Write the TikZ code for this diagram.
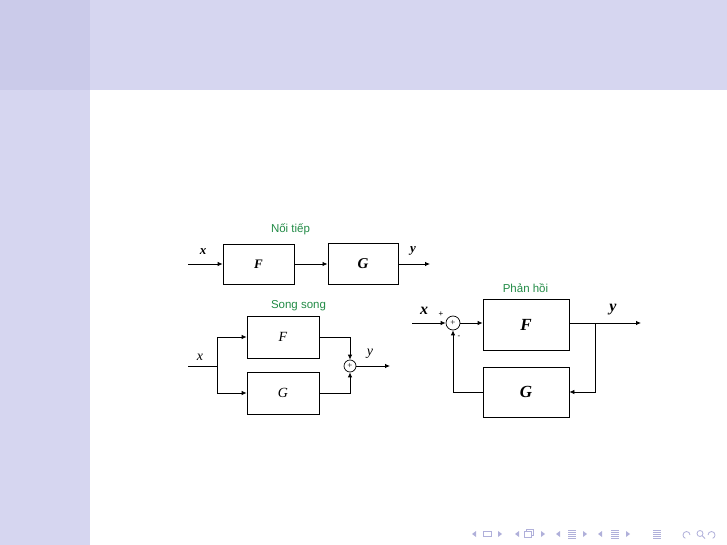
\documentclass[tikz,border=0pt]{standalone}
\usepackage{fontspec}
\setmainfont{Liberation Serif}
\newfontfamily\lsans{Liberation Sans}
\usetikzlibrary{arrows.meta}
\definecolor{band}{HTML}{D6D6F0}
\definecolor{corner}{HTML}{CBCBEA}
\definecolor{lblgreen}{RGB}{34,139,70}
\definecolor{navc}{HTML}{B0B0DA}
\tikzset{
  blk/.style={draw, line width=0.8pt, inner sep=0pt},
  sumc/.style={draw, circle, line width=0.7pt, inner sep=0pt, minimum size=12pt},
  conn/.style={line width=0.8pt},
  arr/.style={conn, -{Latex[length=5pt,width=4.5pt]}},
  lbl/.style={font=\lsans\fontsize{11.5}{12}\selectfont, text=lblgreen},
}
\begin{document}
\begin{tikzpicture}[x=1pt,y=-1pt]
\useasboundingbox (0,0) rectangle (727,545);
% beamer frame
\fill[band] (0,0) rectangle (727,90);
\fill[band] (0,90) rectangle (90,545);
\fill[corner] (0,0) rectangle (90,90);

% ---- series ----
\node[lbl] (ls) at (290.5,229) {Nối tiếp};
\node[blk, minimum width=71pt, minimum height=40pt] (sF) at (258.5,264) {\fontsize{13}{14}\selectfont\itshape\bfseries F};
\node[blk, line width=1pt, minimum width=70pt, minimum height=41pt] (sG) at (363,264) {\fontsize{15}{16}\selectfont\itshape\bfseries G};
\coordinate (sin) at (188,264);
\coordinate (sout) at (430,264);
\draw[arr] (sin) -- (sF.west);
\draw[arr] (sF.east) -- (sG.west);
\draw[arr] (sG.east) -- (sout);
\node[font=\fontsize{13}{14}\selectfont\itshape\bfseries] (sx) at (203,252) {x};
\node[font=\fontsize{13}{14}\selectfont\itshape\bfseries] (sy) at (413,251) {y};

% ---- parallel ----
\node[lbl] (lp) at (298.5,306) {Song song};
\node[blk, minimum width=72pt, minimum height=42pt] (pF) at (283,337) {\fontsize{14}{15}\selectfont\itshape F};
\node[blk, minimum width=72pt, minimum height=42pt] (pG) at (283,393) {\fontsize{14}{15}\selectfont\itshape G};
\node[sumc] (pS) at (350,366) {};
\node[font=\fontsize{9}{9}\selectfont] at (pS.center) {+};
\coordinate (pin) at (188,366);
\coordinate (pbr) at (217,366);
\coordinate (pout) at (390,366);
\draw[conn] (pin) -- (pbr);
\draw[arr] (pbr) |- (pF.west);
\draw[arr] (pbr) |- (pG.west);
\draw[arr] (pF.east) -| (pS.north);
\draw[arr] (pG.east) -| (pS.south);
\draw[arr] (pS.east) -- (pout);
\node[font=\fontsize{14}{15}\selectfont\itshape] (px) at (200,357) {x};
\node[font=\fontsize{14}{15}\selectfont\itshape] (py) at (370,354) {y};

% ---- feedback ----
\node[lbl] (lf) at (525.5,288) {Phản hồi};
\node[blk, minimum width=86pt, minimum height=51pt] (fF) at (526,324.5) {\fontsize{17}{18}\selectfont\itshape\bfseries F};
\node[blk, minimum width=86pt, minimum height=50pt] (fG) at (526,392) {\fontsize{17}{18}\selectfont\itshape\bfseries G};
\node[sumc, minimum size=14pt] (fS) at (453,323) {};
\node[font=\fontsize{9}{9}\selectfont] at (fS.center) {+};
\coordinate (fin) at (412,323);
\coordinate (fout) at (641,323);
\coordinate (fbr) at (595,323);
\draw[arr] (fin) -- (fS.west);
\draw[arr] (fS.east) -- (fS.east -| fF.west);
\draw[arr] (fS.east -| fF.east) -- (fout);
\draw[arr] (fbr) |- (fG.east);
\draw[arr] (fG.west) -| (fS.south);
\node[font=\fontsize{16}{17}\selectfont\itshape\bfseries] (fx) at (424,311) {x};
\node[font=\fontsize{16}{17}\selectfont\itshape\bfseries] (fy) at (613,310) {y};
\node[font=\lsans\fontsize{8}{8}\selectfont] (fp) at (441,314) {+};
\node[font=\lsans\fontsize{8}{8}\selectfont] (fm) at (459,337) {-};

% ---- navigation symbols ----
\begin{scope}[navc]
\fill (476,531) -- (476,537) -- (472,534) -- cycle;
\draw[line width=0.8pt] (483,531.5) rectangle (491,536.5);
\fill (498,531) -- (498,537) -- (502,534) -- cycle;
\fill (519,531) -- (519,537) -- (515,534) -- cycle;
\draw[line width=0.7pt] (524,531) rectangle (531,537);
\draw[line width=0.7pt] (526,531) -- (526,529) -- (533,529) -- (533,535) -- (531,535);
\fill (541,531) -- (541,537) -- (545,534) -- cycle;
\fill (560,531) -- (560,537) -- (556,534) -- cycle;
\foreach \yy in {530,532,534,536,538} \draw[line width=0.6pt] (568,\yy) -- (576,\yy);
\fill (583,531) -- (583,537) -- (587,534) -- cycle;
\fill (602,531) -- (602,537) -- (598,534) -- cycle;
\foreach \yy in {530,532,534,536,538} \draw[line width=0.6pt] (611,\yy) -- (619,\yy);
\fill (626,531) -- (626,537) -- (630,534) -- cycle;
\foreach \yy in {530,532,534,536,538} \draw[line width=0.6pt] (653,\yy) -- (661,\yy);
\draw[line width=0.8pt] (690,535) arc (0:-250:3.5) ;
\draw[line width=0.8pt] (700,533.5) circle (3);
\draw[line width=0.8pt] (702,535.5) -- (705,538.5);
\draw[line width=0.8pt] (708,535) arc (180:430:3.5);
\end{scope}
\end{tikzpicture}
\end{document}
